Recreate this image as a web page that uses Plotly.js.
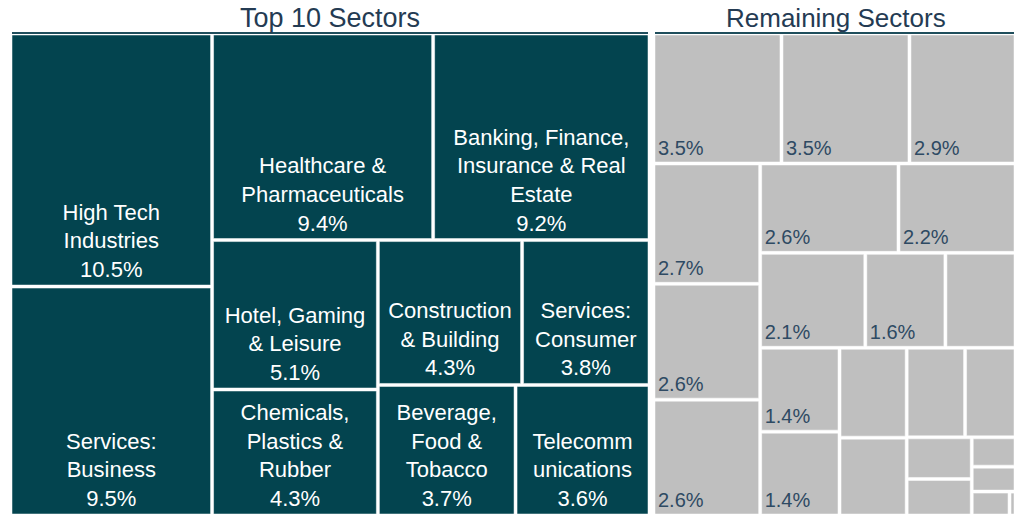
<!DOCTYPE html>
<html>
<head>
<meta charset="utf-8">
<script src="https://cdn.plot.ly/plotly-3.0.1.min.js"></script>
<style>html,body{margin:0;padding:0;background:#fff;}#chart{width:1014px;height:514px;}</style>
</head>
<body>
<div id="chart"></div>
<script>
// Top 10 sectors (share of total, %)
const topSectors = ["High Tech Industries", "Services: Business", "Healthcare & Pharmaceuticals",
  "Banking, Finance, Insurance & Real Estate", "Hotel, Gaming & Leisure", "Chemicals, Plastics & Rubber",
  "Construction & Building", "Services: Consumer", "Beverage, Food & Tobacco", "Telecommunications"];
const topDisplay = ["High Tech<br>Industries", "Services:<br>Business", "Healthcare &<br>Pharmaceuticals",
  "Banking, Finance,<br>Insurance & Real<br>Estate", "Hotel, Gaming<br>& Leisure", "Chemicals,<br>Plastics &<br>Rubber",
  "Construction<br>& Building", "Services:<br>Consumer", "Beverage,<br>Food &<br>Tobacco", "Telecomm<br>unications"];
const topValues = [10.5, 9.5, 9.4, 9.2, 5.1, 4.3, 4.3, 3.8, 3.7, 3.6];

// Remaining sectors (share of total, %), names not shown in the chart
const remainingIds = ["R01","R02","R03","R04","R05","R06","R07","R08","R09","R10","R11","R12",
  "R13","R14","R15","R16","R17","R18","R19","R20","R21","R22","R23"];
const remainingValues = [3.5, 3.5, 2.9, 2.7, 2.6, 2.6, 2.6, 2.2, 2.1, 1.6, 1.4, 1.4, 1.4,
  1.27, 1.1, 1.1, 0.95, 0.57, 0.5, 0.27, 0.23, 0.19, 0.03];
const remainingLabeled = [1,1,1,1,1,1,1,1,1,1,0,1,1,0,0,0,0,0,0,0,0,0,0];

const teal = "#03444F";
const grey = "#BFBFBF";
const titleColor = "#243B53";
const font = "Liberation Sans, Arial, sans-serif";

const leftTrace = {
  type: "treemap",
  ids: topSectors,
  labels: topSectors,
  parents: topSectors.map(() => ""),
  values: topValues,
  text: topDisplay.map((d, i) => d + "<br>" + topValues[i].toFixed(1) + "%"),
  textinfo: "text",
  textposition: "bottom center",
  sort: false,
  domain: {x: [12/1014, 648/1014], y: [0, 1 - 35/514]},
  tiling: {packing: "squarify", squarifyratio: 1, pad: 3},
  marker: {colors: topSectors.map(() => teal), line: {color: "#ffffff", width: 0.5}, pad: {t: 0, l: 0, r: 0, b: 0}},
  pathbar: {visible: false},
  insidetextfont: {family: font, size: 22, color: "#ffffff"},
  hoverinfo: "label+value"
};

const rightTrace = {
  type: "treemap",
  ids: remainingIds,
  labels: remainingIds,
  parents: remainingIds.map(() => ""),
  values: remainingValues,
  text: remainingValues.map((v, i) => remainingLabeled[i] ? v.toFixed(1) + "%" : ""),
  textinfo: "text",
  textposition: "bottom left",
  sort: false,
  domain: {x: [655/1014, 1], y: [0, 1 - 35/514]},
  tiling: {packing: "squarify", squarifyratio: 1, pad: 3},
  marker: {colors: remainingIds.map(() => grey), line: {color: "#ffffff", width: 0.5}, pad: {t: 0, l: 0, r: 0, b: 0}},
  pathbar: {visible: false},
  insidetextfont: {family: font, size: 20, color: "#2E4A63"},
  hoverinfo: "value"
};

const layout = {
  width: 1014, height: 514,
  margin: {l: 0, r: 0, t: 0, b: 0},
  paper_bgcolor: "#ffffff",
  showlegend: false,
  annotations: [
    {text: "Top 10 Sectors", xref: "paper", yref: "paper", x: 330/1014, y: 1 - 18/514,
     xanchor: "center", yanchor: "middle", showarrow: false, font: {family: font, size: 27, color: titleColor}},
    {text: "Remaining Sectors", xref: "paper", yref: "paper", x: 836/1014, y: 1 - 18/514,
     xanchor: "center", yanchor: "middle", showarrow: false, font: {family: font, size: 26, color: titleColor}}
  ],
  shapes: [
    {type: "line", xref: "paper", yref: "paper", x0: 12/1014, x1: 648/1014, y0: 1 - 33/514, y1: 1 - 33/514,
     line: {color: "#1F4E5C", width: 2}},
    {type: "line", xref: "paper", yref: "paper", x0: 655/1014, x1: 1, y0: 1 - 33/514, y1: 1 - 33/514,
     line: {color: "#1F4E5C", width: 2}}
  ]
};

Plotly.newPlot("chart", [leftTrace, rightTrace], layout, {displayModeBar: false, staticPlot: true});
</script>
</body>
</html>
